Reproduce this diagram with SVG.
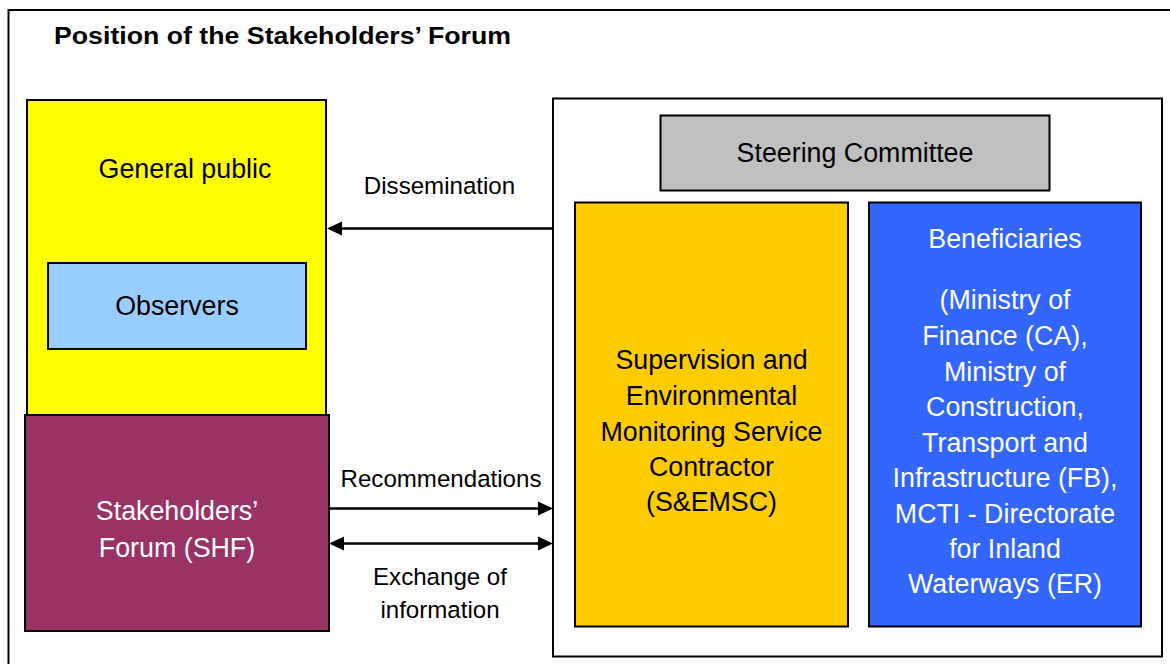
<svg xmlns="http://www.w3.org/2000/svg" width="1170" height="664" viewBox="0 0 1170 664">
<style>
.box{stroke:#000;stroke-width:2}
.t{font-family:"Liberation Sans",Arial,sans-serif;font-size:26.8px;text-anchor:middle}
.lbl{font-family:"Liberation Sans",Arial,sans-serif;font-size:24.1px;text-anchor:middle;fill:#000}
.conn{stroke:#000;stroke-width:2.5;fill:none}
</style>
<defs>
<marker id="ah" markerUnits="userSpaceOnUse" markerWidth="16" markerHeight="15" refX="0" refY="7" orient="auto-start-reverse" viewBox="0 0 16 14">
<path d="M0,0 L15,7 L0,14 z" fill="#000"/>
</marker>
</defs>
<rect x="0" y="0" width="1170" height="664" fill="#fff"/>
<rect x="8.5" y="10" width="1200" height="700" fill="#fff" stroke="#000" stroke-width="2"/>
<text x="54" y="44" font-family="'Liberation Sans',Arial,sans-serif" font-weight="bold" font-size="24" textLength="457" lengthAdjust="spacingAndGlyphs">Position of the Stakeholders’ Forum</text>

<g id="general-public">
<rect class="box" x="27" y="100" width="299" height="315" fill="#FFFF00"/>
<text class="t" x="185" y="178" fill="#000">General public</text>
</g>
<g id="observers">
<rect class="box" x="48" y="263" width="258" height="86" fill="#99CCFF"/>
<text class="t" x="177" y="315" fill="#000">Observers</text>
</g>
<g id="stakeholders-forum">
<rect class="box" x="25" y="415" width="304" height="216" fill="#993366"/>
<text class="t" x="177" y="520" fill="#fff">Stakeholders’</text>
<text class="t" x="177" y="556.5" fill="#fff">Forum (SHF)</text>
</g>
<g id="project-container">
<rect class="box" x="553" y="98.5" width="609" height="558" fill="#fff"/>
</g>
<g id="steering-committee">
<rect class="box" x="660.5" y="115.5" width="389" height="75" fill="#C0C0C0"/>
<text class="t" x="855" y="161.5" fill="#000">Steering Committee</text>
</g>
<g id="semsc">
<rect class="box" x="575" y="202.5" width="273" height="424" fill="#FFCC00"/>
<text class="t" x="711.5" y="369.3" fill="#000">Supervision and</text>
<text class="t" x="711.5" y="405" fill="#000">Environmental</text>
<text class="t" x="711.5" y="440.5" fill="#000">Monitoring Service</text>
<text class="t" x="711.5" y="475.5" fill="#000">Contractor</text>
<text class="t" x="711.5" y="510.5" fill="#000">(S&amp;EMSC)</text>
</g>
<g id="beneficiaries">
<rect class="box" x="869" y="202.5" width="272" height="424" fill="#3366FF"/>
<text class="t" x="1005" y="248.3" fill="#fff">Beneficiaries</text>
<text class="t" x="1005" y="309.3" fill="#fff">(Ministry of</text>
<text class="t" x="1005" y="345" fill="#fff">Finance (CA),</text>
<text class="t" x="1005" y="380.7" fill="#fff">Ministry of</text>
<text class="t" x="1005" y="416" fill="#fff">Construction,</text>
<text class="t" x="1005" y="451.7" fill="#fff">Transport and</text>
<text class="t" x="1005" y="487.3" fill="#fff">Infrastructure (FB),</text>
<text class="t" x="1005" y="523.3" fill="#fff">MCTI - Directorate</text>
<text class="t" x="1005" y="558.3" fill="#fff">for Inland</text>
<text class="t" x="1005" y="593.3" fill="#fff">Waterways (ER)</text>
</g>

<g id="connectors">
<path class="conn" d="M553,228.5 L342,228.5" marker-end="url(#ah)"/>
<text class="lbl" x="439.5" y="194">Dissemination</text>
<path class="conn" d="M330,508.5 L538,508.5" marker-end="url(#ah)"/>
<text class="lbl" x="441" y="486.7">Recommendations</text>
<path class="conn" d="M344,543.5 L538,543.5" marker-start="url(#ah)" marker-end="url(#ah)"/>
<text class="lbl" x="440" y="585">Exchange of</text>
<text class="lbl" x="440" y="617.5">information</text>
</g>
</svg>
